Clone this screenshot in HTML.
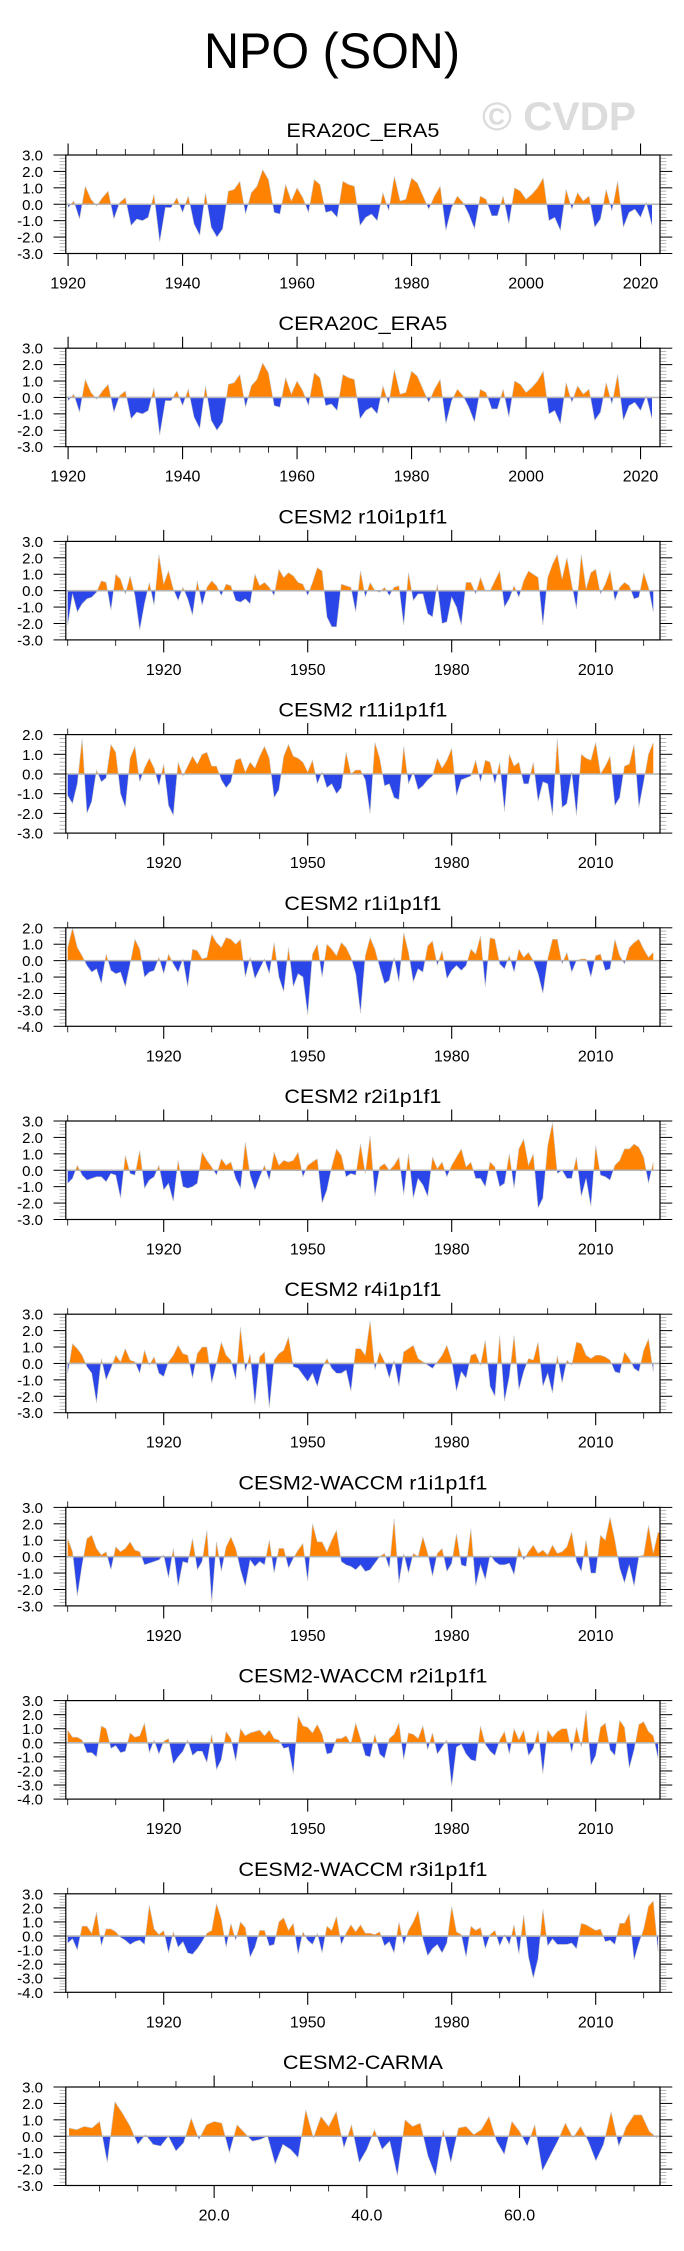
<!DOCTYPE html>
<html><head><meta charset="utf-8"><title>NPO (SON)</title>
<style>html,body{margin:0;padding:0;background:#fff}svg{display:block}text{font-family:"Liberation Sans",Arial,sans-serif}</style>
</head><body>
<svg id="fig" width="684" height="2251" viewBox="0 0 684 2251" xmlns="http://www.w3.org/2000/svg">
<rect x="0" y="0" width="684" height="2251" fill="#fff"/>
<text x="332" y="68" font-size="50" text-anchor="middle" textLength="256" lengthAdjust="spacingAndGlyphs">NPO (SON)</text>
<text x="559" y="130" font-size="40" font-weight="bold" fill="#dcdcdc" text-anchor="middle" textLength="154" lengthAdjust="spacingAndGlyphs">© CVDP</text>
</svg>
<script>
const titles = ["ERA20C_ERA5","CERA20C_ERA5","CESM2 r10i1p1f1","CESM2 r11i1p1f1","CESM2 r1i1p1f1","CESM2 r2i1p1f1","CESM2 r4i1p1f1","CESM2-WACCM r1i1p1f1","CESM2-WACCM r2i1p1f1","CESM2-WACCM r3i1p1f1","CESM2-CARMA"];
const yMax = [3,3,3,2,2,3,3,3,3,3,3];
const yMin = [-3,-3,-3,-3,-4,-3,-3,-3,-4,-4,-3];
const startYear = [1920,1920,1900,1900,1900,1900,1900,1900,1900,1900,1];
const xLabelsEra = [1920,1940,1960,1980,2000,2020];
const xLabelsCesm = [1920,1950,1980,2010];
const xLabelsCarma = ["20.0","40.0","60.0"];

const era20c = [-0.2,0.2,-0.9,1.1,0.3,-0.1,0.4,0.8,-0.9,0.1,0.4,-1.3,-0.9,-1.0,-0.8,0.6,-2.3,-0.2,-0.2,0.4,-0.5,0.5,-1.2,-1.9,0.7,-1.4,-2.0,-1.5,0.8,0.9,1.4,-0.6,0.7,1.1,2.1,1.5,-0.5,-0.6,1.2,0.2,1.0,0.4,-0.5,1.5,1.2,-0.5,-0.4,-0.8,1.4,1.2,1.1,-1.3,-0.8,-0.6,-1.0,0.7,-0.4,1.7,0.2,0.3,1.6,1.3,0.5,-0.3,0.5,1.1,-1.6,-0.2,0.5,0.1,-0.6,-1.5,0.5,0.3,-0.7,-0.7,0.5,-1.2,1.0,0.8,0.3,0.6,1.0,1.6,-1.0,-0.8,-1.6,0.9,-0.3,0.7,0.2,0.5,-1.4,-0.9,0.9,-0.4,1.4,-1.4,-0.5,-0.3,-0.8,0.1,-1.3];
const cera20c = [-0.2,0.2,-0.9,1.1,0.3,-0.1,0.4,0.8,-0.9,0.1,0.4,-1.3,-0.9,-1.0,-0.8,0.6,-2.3,-0.2,-0.2,0.4,-0.5,0.5,-1.2,-1.9,0.7,-1.4,-2.0,-1.5,0.8,0.9,1.4,-0.6,0.7,1.1,2.1,1.5,-0.5,-0.6,1.2,0.2,1.0,0.4,-0.5,1.5,1.2,-0.5,-0.4,-0.8,1.4,1.2,1.1,-1.3,-0.8,-0.6,-1.0,0.7,-0.4,1.7,0.2,0.3,1.6,1.3,0.5,-0.3,0.5,1.1,-1.6,-0.2,0.5,0.1,-0.6,-1.5,0.5,0.3,-0.7,-0.7,0.5,-1.2,1.0,0.8,0.3,0.6,1.0,1.6,-1.0,-0.8,-1.6,0.9,-0.3,0.7,0.2,0.5,-1.4,-0.9,0.9,-0.4,1.4,-1.4,-0.5,-0.3,-0.8,0.1,-1.3];
const r10 = [-2.1,-0.2,-1.3,-0.8,-0.5,-0.4,-0.1,0.6,0.5,-1.2,1.0,0.7,-0.2,0.9,-0.3,-2.4,-0.8,0.5,-0.9,2.2,0.4,1.2,0.1,-0.6,0.2,-0.5,-1.5,0.6,-0.9,0.2,0.6,0.3,-0.3,0.4,0.3,-0.6,-0.7,-0.5,-0.8,1.0,0.3,0.5,0.2,-0.3,1.3,0.8,1.1,0.9,0.5,0.4,-0.3,0.5,1.4,1.2,-1.6,-2.2,-2.2,0.4,0.3,0.2,-1.3,1.2,-0.4,0.5,0.0,-0.1,0.2,-0.3,0.2,0.3,-2.1,1.1,-0.6,-0.2,-0.2,-1.4,-1.6,0.4,-2.0,-1.9,-0.4,-1.0,-2.1,0.5,0.5,-0.2,0.8,0.0,0.0,0.6,1.2,-1.0,-0.5,0.3,-0.4,0.6,1.2,1.0,0.8,-2.1,0.8,1.6,2.2,0.7,2.0,0.4,-1.1,2.2,0.1,1.1,1.3,-0.2,0.4,1.2,-0.6,0.2,0.5,0.3,-0.5,-0.4,1.1,0.2,-1.3];
const r11 = [-1.1,-1.5,-0.5,1.8,-2.0,-1.4,0.2,-0.4,-0.2,1.5,1.1,-1.0,-1.7,0.8,1.4,-0.4,0.3,0.8,0.3,-0.6,0.5,-1.6,-2.1,0.6,-0.1,0.4,0.9,0.5,1.0,1.1,0.4,0.4,-0.3,-0.7,-0.4,0.7,0.8,0.1,0.6,0.3,0.9,1.4,0.8,-1.2,-0.8,0.9,1.5,0.9,0.8,0.6,0.1,0.7,-0.5,0.1,-0.7,-0.5,-1.0,-0.7,1.1,0.0,0.2,0.2,-0.3,-2.0,1.6,0.8,-0.6,-0.5,-1.2,-1.3,1.4,-0.5,0.1,-0.8,-0.6,-0.3,-0.1,0.8,0.3,0.7,1.3,-1.1,-0.3,-0.2,-0.1,0.7,-0.4,0.7,0.6,-0.5,0.6,-1.9,1.0,0.4,0.6,-0.5,-0.5,0.6,-1.4,-0.4,-0.5,-2.1,1.8,-1.7,-1.5,0.1,-2.1,1.0,0.8,0.7,1.6,0.0,0.4,0.9,-1.6,-1.2,0.4,0.5,1.5,-1.7,-0.4,1.0,1.6];
const r1 = [0.8,2.0,0.8,0.3,-0.3,-0.7,-0.5,-1.4,0.4,-0.6,-0.8,-0.7,-1.6,-0.2,1.3,0.7,-1.0,-0.7,-0.6,0.2,-0.8,0.4,-0.2,-0.7,0.1,-1.6,0.7,0.6,0.1,0.2,1.6,1.1,0.8,1.4,1.3,1.0,1.3,-1.0,0.2,-1.1,-0.5,0.1,-0.8,1.1,-1.0,-1.9,0.8,-1.6,-0.8,-1.0,-3.3,0.4,1.0,-1.0,1.0,0.7,0.3,1.1,0.8,0.2,-0.8,-3.2,0.3,1.4,0.7,-0.4,-1.4,-1.2,0.2,-1.3,1.7,0.5,-1.3,-0.5,-0.7,0.9,1.2,-0.3,0.6,-1.1,-0.6,-0.3,-0.6,-0.3,0.7,0.4,1.5,-1.6,1.4,1.3,-0.2,-0.5,0.3,-0.7,0.7,0.2,0.5,0.0,-0.8,-2.0,0.1,1.3,1.3,-0.2,0.5,-0.7,0.0,0.1,0.1,-1.0,0.3,0.4,-0.6,-0.5,1.3,0.3,-0.2,0.8,1.1,1.3,0.7,0.2,0.5];
const r2 = [-0.8,-0.5,0.3,-0.3,-0.6,-0.5,-0.4,-0.4,-0.7,-0.2,-0.3,-1.7,0.9,-0.2,-0.3,1.2,-1.1,-0.6,-0.4,0.3,-1.2,-0.8,-1.9,0.6,-1.0,-1.1,-1.0,-0.8,1.1,0.6,0.2,-0.3,0.7,0.3,0.5,-0.5,-1.1,1.7,-0.3,-1.2,-0.4,0.3,-0.6,1.1,0.3,0.6,0.5,0.6,1.1,-0.4,0.3,0.5,0.7,-2.0,-1.2,0.2,1.3,0.9,-0.4,-0.2,-0.3,1.6,-0.2,2.1,-1.6,0.2,0.4,0.0,0.3,0.8,-1.5,1.0,-1.7,-0.5,-0.9,-1.6,0.8,0.1,0.5,-0.4,0.3,0.8,1.3,0.2,0.5,-0.5,-0.5,-1.0,0.5,0.2,-1.0,-0.8,1.0,-1.1,1.3,1.9,0.3,1.0,-2.3,-1.7,1.5,2.9,-0.2,0.0,-0.5,-0.5,0.8,-1.6,-0.5,-2.2,1.5,-0.3,-0.4,-0.6,0.3,0.6,1.3,1.3,1.6,1.4,0.8,-0.8,0.5];
const r4 = [-0.6,1.2,0.9,0.5,-0.2,-0.6,-2.4,0.3,-1.0,-0.3,0.5,0.1,0.9,0.2,0.1,-0.6,0.8,-0.1,0.4,-0.6,-0.8,0.1,0.5,1.1,0.6,0.5,-0.9,0.6,1.0,1.0,-1.2,0.0,1.3,0.5,0.2,-1.0,2.2,-0.5,0.6,-2.5,0.4,0.7,-2.7,0.2,0.6,0.8,1.6,-0.2,-0.3,-0.7,-1.1,-0.6,-1.4,-0.3,0.3,-0.3,-0.6,-0.6,-0.4,-1.7,0.9,0.9,0.5,2.6,-0.4,0.7,0.1,-0.9,0.2,-1.4,0.7,0.9,1.1,0.3,0.1,-0.1,-0.3,0.1,0.5,1.1,0.2,-1.7,-0.5,-0.9,0.5,0.6,-0.1,1.4,-1.4,-2.0,1.7,-2.3,-0.8,1.7,-1.6,-0.5,0.3,0.2,1.3,-1.4,-0.6,-1.8,0.5,-1.2,0.2,-0.1,1.3,1.2,0.5,0.3,0.5,0.5,0.4,0.2,-0.5,-0.6,0.7,0.3,-0.3,-0.5,0.8,1.5,-0.5];
const w1 = [1.1,0.3,-2.4,-0.5,1.1,1.3,0.5,0.1,0.3,-0.8,0.6,0.3,0.5,0.9,0.4,0.3,-0.5,-0.4,-0.3,-0.2,0.1,-1.3,0.5,-1.8,-0.3,-0.4,1.1,-0.8,-0.3,1.6,-2.8,0.9,-0.9,0.6,1.2,0.5,-0.8,-1.8,-0.2,-0.6,-0.3,-0.5,1.0,-1.0,0.5,0.5,-0.7,-0.1,0.4,0.8,-1.5,2.0,0.9,0.9,0.3,1.0,1.6,-0.3,-0.5,-0.6,-0.8,-0.5,-0.9,-0.8,-0.4,0.0,0.2,-0.7,2.3,-1.6,0.2,-1.0,0.2,0.0,1.2,0.2,-1.2,0.2,0.5,-0.9,-0.4,1.4,-0.5,-0.6,1.7,-1.8,-0.5,-1.4,0.1,-0.3,-0.5,-0.5,-0.4,-1.1,0.6,-0.2,0.3,0.7,0.2,0.4,0.1,0.7,0.2,0.3,0.6,1.5,-0.3,-0.9,1.0,-1.0,-1.0,1.3,1.0,2.4,1.0,-0.7,-1.6,-0.5,-1.8,0.0,0.1,1.9,0.2,1.5,1.3];
const w2 = [0.9,0.4,0.4,0.2,-0.7,-0.7,-1.0,1.2,1.0,-0.4,-0.2,-0.7,-0.6,0.7,0.4,0.5,1.4,-0.7,0.2,-0.8,0.1,0.3,-1.5,-1.0,-0.6,0.2,-0.9,-0.6,-0.6,-1.4,0.6,-1.9,-1.2,0.8,0.3,-1.3,1.0,0.5,0.7,0.8,0.9,0.5,0.9,0.3,0.2,-0.4,-0.3,-2.2,1.9,1.2,1.1,0.7,1.3,0.6,-0.8,-0.7,0.3,0.3,0.5,-0.1,1.4,0.3,-0.9,-1.0,0.6,-0.8,-1.1,0.3,0.6,1.4,-1.2,0.7,0.6,0.3,1.2,-0.5,0.7,-0.8,-0.3,0.2,-3.1,-0.3,-0.1,-0.8,-1.2,-1.3,1.2,-0.1,-0.6,-0.9,0.2,0.8,-0.8,1.0,0.2,0.9,-0.9,-0.4,0.9,-2.2,0.9,0.4,0.8,1.0,1.0,-0.7,1.1,-0.3,2.3,-1.6,-0.9,1.1,1.4,-0.5,-0.9,1.6,1.1,-1.8,-0.5,1.3,1.5,0.8,0.5,-1.1];
const w3 = [-0.5,-0.2,-1.0,0.7,0.7,0.2,1.7,-0.7,0.5,0.5,0.3,-0.1,-0.3,-0.6,-0.4,-0.3,-0.6,2.2,0.5,0.1,0.4,-1.2,0.3,-0.8,-0.4,-1.2,-1.3,-0.9,-0.4,0.2,0.4,2.3,1.2,-0.8,0.9,-0.3,1.0,0.6,-1.5,-0.8,0.4,0.4,-0.7,-0.6,1.0,1.3,0.4,0.9,-1.3,0.3,-0.3,-0.6,0.2,-1.2,0.7,0.4,1.4,-0.6,0.2,0.8,0.3,0.8,0.2,0.2,0.1,0.3,-0.7,-0.4,-1.2,1.0,-0.6,0.4,1.0,1.8,-0.2,-1.4,-0.9,-0.6,-1.2,-0.5,2.1,0.3,0.1,-1.5,0.7,0.4,0.6,-0.9,0.1,0.4,-0.7,0.1,-0.6,0.8,-1.3,1.5,-1.5,-3.0,-1.6,1.9,-0.7,-0.2,-0.6,-0.6,-0.6,-0.5,-0.9,0.9,0.8,0.6,0.4,0.5,-0.4,-0.3,-0.6,0.9,0.9,1.6,-1.7,-0.5,0.5,2.1,2.5,-1.1];
const carma = [0.5,0.4,0.6,0.5,0.9,-1.6,2.1,1.4,0.6,-0.5,0.1,-0.5,-0.6,0.0,-0.9,-0.4,1.1,-0.2,0.7,0.9,0.8,-1.0,0.7,0.2,-0.3,-0.2,0.0,-1.7,-0.5,-0.8,-1.3,1.6,-0.1,1.2,0.6,1.5,-0.7,0.7,-1.6,-0.8,0.4,-0.8,-0.3,-2.4,1.0,0.6,0.8,-1.2,-2.4,0.4,-1.6,0.5,0.6,0.1,0.4,1.2,-0.3,-1.1,0.9,0.3,-0.6,0.7,-2.1,-1.2,-0.3,0.8,-0.1,0.6,-0.3,-1.5,-0.5,1.5,-0.6,0.6,1.3,1.3,0.3,-0.1];

const series = [era20c,cera20c,r10,r11,r1,r2,r4,w1,w2,w3,carma];
const NS = "http://www.w3.org/2000/svg";
const svg = document.getElementById('fig');
const FL = 65.8, FR = 660, FH = 98.5;
function mk(tag, attrs, parent){ const e=document.createElementNS(NS,tag); for(const k in attrs) e.setAttribute(k,attrs[k]); (parent||svg).appendChild(e); return e; }

const titleLen = {"ERA20C_ERA5":153,"CERA20C_ERA5":169,"CESM2 r10i1p1f1":169,"CESM2 r11i1p1f1":169,"CESM2 r1i1p1f1":157,"CESM2 r2i1p1f1":157,"CESM2 r4i1p1f1":157,"CESM2-WACCM r1i1p1f1":249,"CESM2-WACCM r2i1p1f1":249,"CESM2-WACCM r3i1p1f1":249,"CESM2-CARMA":160};

for (let p=0; p<series.length; p++){
  const top = 155 + p*193.2, bot = top + FH;
  const data = series[p];
  let xmin, xmax, majors, minorStep, labels;
  if (p<2){ xmin=1919.6; xmax=2023.4; majors=xLabelsEra; minorStep=5; labels=xLabelsEra.map(String); }
  else if (p<10){ xmin=1899.6; xmax=2023.4; majors=xLabelsCesm; minorStep=10; labels=xLabelsCesm.map(String); }
  else { xmin=0.57; xmax=78.4; majors=xLabelsCarma.map(Number); minorStep=5; labels=xLabelsCarma; }
  const xs = v => FL + (v-xmin)/(xmax-xmin)*(FR-FL);
  const ys = v => top + (yMax[p]-v)/(yMax[p]-yMin[p])*FH;

  const g = mk('g',{});
  
  

  const t = mk('text',{x:(FL+FR)/2, y:top-18, 'font-size':19, 'text-anchor':'middle', textLength:titleLen[titles[p]], lengthAdjust:'spacingAndGlyphs'}, g);
  t.textContent = titles[p];
  
  

  // area
  const id = 'c'+p;
  const defs = mk('defs',{},g);
  const cpA = mk('clipPath',{id:id+'a'},defs); mk('rect',{x:FL,y:top,width:FR-FL,height:ys(0)-top},cpA);
  const cpB = mk('clipPath',{id:id+'b'},defs); mk('rect',{x:FL,y:ys(0),width:FR-FL,height:bot-ys(0)},cpB);
  let d = 'M'+xs(startYear[p]).toFixed(2)+','+ys(0).toFixed(2);
  let ld = '';
  data.forEach((v,i)=>{ const X=xs(startYear[p]+i).toFixed(2), Y=ys(v).toFixed(2); d+=' L'+X+','+Y; ld+=(i?' L':'M')+X+','+Y; });
  d += ' L'+xs(startYear[p]+data.length-1).toFixed(2)+','+ys(0).toFixed(2)+' Z';
  const pa = mk('path',{d:d, fill:'#ff8200', 'clip-path':'url(#'+id+'a)'}, g);
  
  
  const pb = mk('path',{d:d, fill:'#2a45e8', 'clip-path':'url(#'+id+'b)'}, g);
  
  
  const ln = mk('path',{d:ld, fill:'none', stroke:'#c8c8c8', 'stroke-width':0.6}, g);
  
  
  const zl = mk('line',{x1:FL,x2:FR,y1:ys(0),y2:ys(0),stroke:'#b4b4b4','stroke-width':1.6}, g);
  
  

  // y ticks
  for (let k=Math.round(yMin[p]*5); k<=Math.round(yMax[p]*5); k++){
    const v=k/5, y=ys(v), major = (k%5===0);
    const len = major?12.3:6.3;
    mk('line',{x1:FL-len,x2:FL,y1:y,y2:y,stroke:major?'#000':'#999','stroke-width':major?1:0.7},g);
    mk('line',{x1:FR,x2:FR+len,y1:y,y2:y,stroke:major?'#000':'#999','stroke-width':major?1:0.7},g);
    if (major){
      const lab = mk('text',{x:43, y:y+5.5, 'font-size':15, 'text-anchor':'end'},g);
      lab.textContent = v.toFixed(1);
      
      
    }
  }
  // x ticks
  for (let v=Math.ceil(xmin/minorStep)*minorStep; v<=xmax; v+=minorStep){
    const x=xs(v), major = majors.indexOf(v)>=0;
    const len = major?11.5:6;
    mk('line',{x1:x,x2:x,y1:top-len,y2:top,stroke:'#000','stroke-width':major?1.1:0.8},g);
    mk('line',{x1:x,x2:x,y1:bot,y2:bot+len+(major?1:0),stroke:'#000','stroke-width':major?1.1:0.8},g);
  }
  majors.forEach((v,i)=>{
    const lab = mk('text',{x:xs(v), y:bot+35, 'font-size':16, 'text-anchor':'middle'},g);
    lab.textContent = labels[i];
    
    
  });
  const fr = mk('rect',{x:FL,y:top,width:FR-FL,height:FH,fill:'none',stroke:'#000','stroke-width':1.2},g);
  
  
}
</script>
</body></html>
